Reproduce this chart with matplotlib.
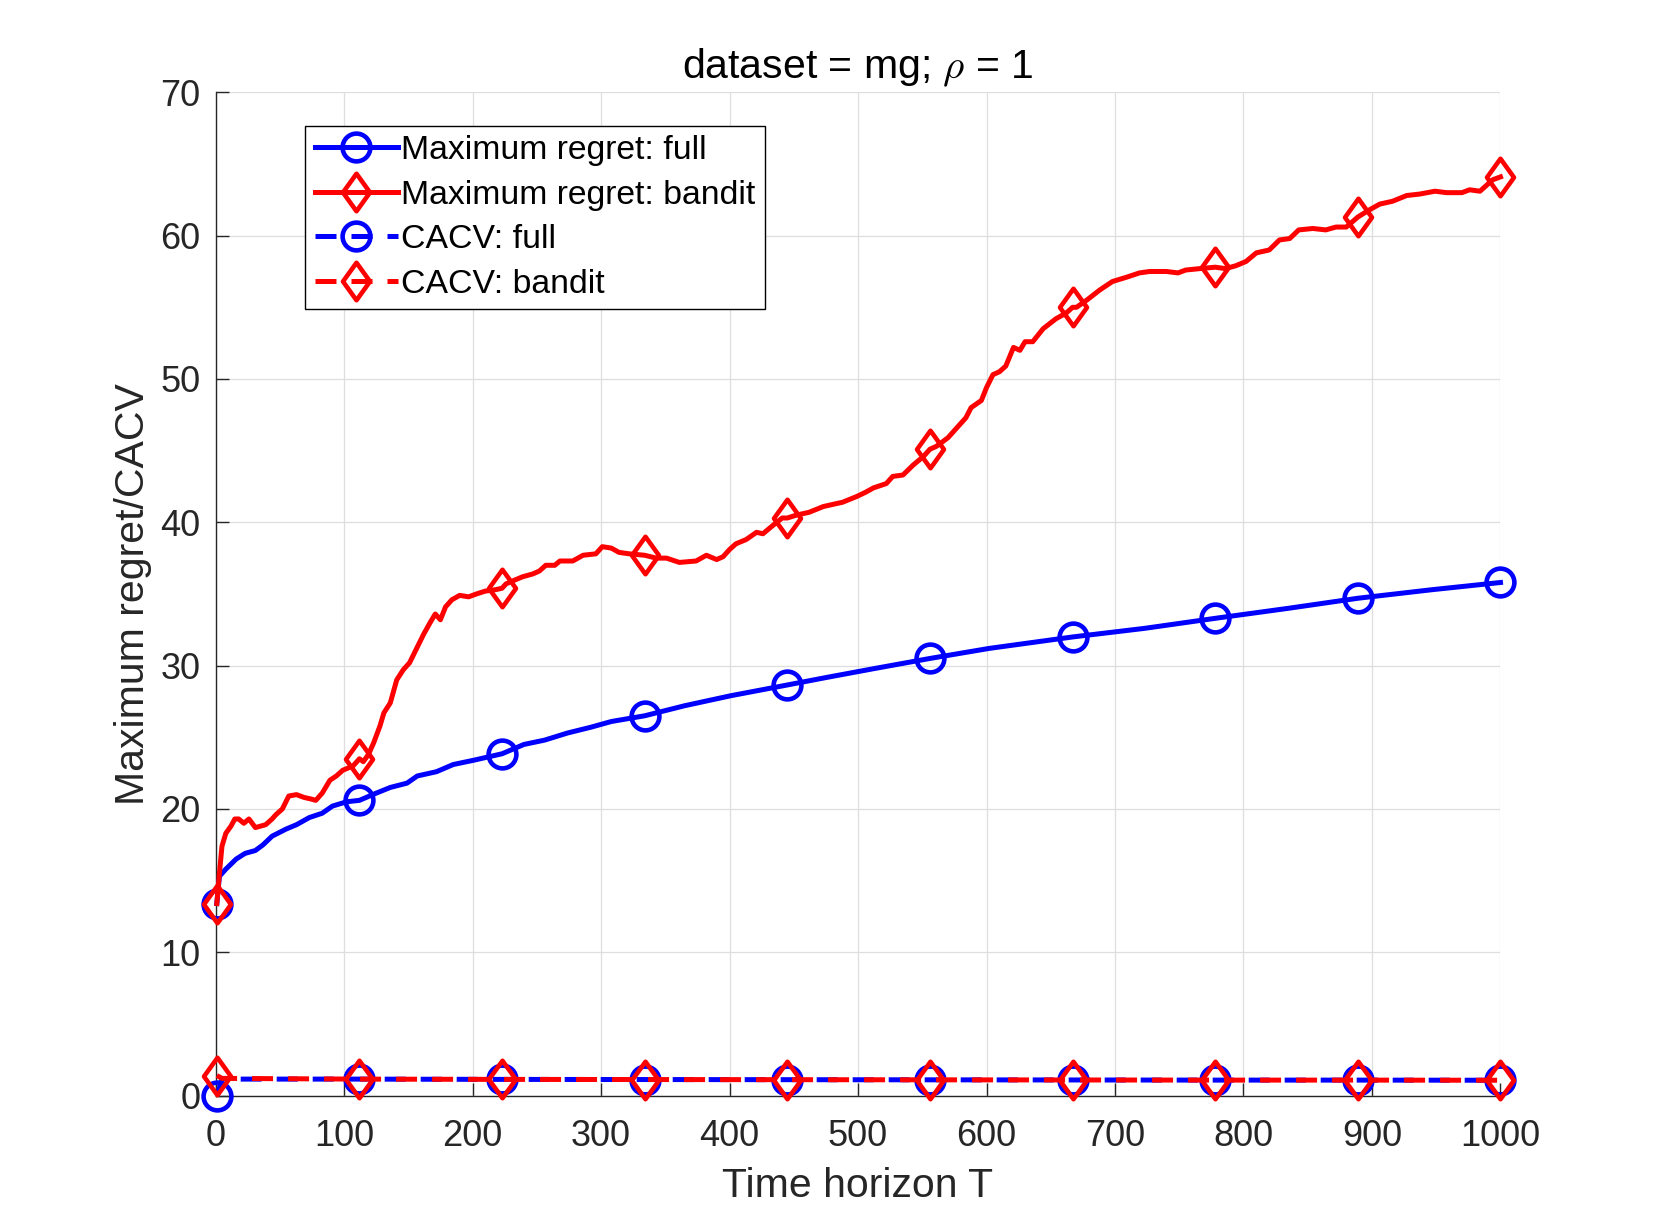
import numpy as np
import matplotlib
matplotlib.use("Agg")
import matplotlib.pyplot as plt
from matplotlib.path import Path

# ---------------- data ----------------
marker_t = [1, 112, 223, 334, 445, 556, 667, 778, 889, 1000]

bandit_t = [1, 3, 5, 8, 12, 15, 18, 22, 26, 31, 35, 39, 44, 47, 52, 57, 63, 69, 74, 78,
            83, 89, 94, 99, 107, 112, 115, 119, 123, 128, 131, 136, 141, 146, 151, 157,
            162, 167, 171, 175, 179, 184, 190, 197, 203, 210, 218, 223, 226, 231, 239,
            247, 252, 257, 264, 268, 278, 286, 296, 301, 308, 314, 322, 334, 343, 351,
            361, 374, 382, 390, 395, 400, 405, 413, 421, 426, 434, 441, 445, 452, 462,
            473, 488, 499, 506, 512, 522, 527, 535, 543, 551, 556, 561, 570, 577, 584,
            588, 596, 600, 605, 610, 615, 621, 626, 630, 636, 644, 654, 662, 667, 670,
            678, 688, 698, 709, 719, 727, 740, 749, 755, 766, 778, 786, 794, 802, 810,
            820, 828, 836, 843, 854, 864, 872, 880, 889, 898, 906, 916, 927, 937, 949,
            958, 970, 976, 984, 989, 994, 1000]
bandit_regret = [13.4, 15.5, 17.4, 18.3, 18.8, 19.3, 19.3, 19.0, 19.3, 18.7, 18.8, 18.9,
                 19.3, 19.6, 20.0, 20.9, 21.0, 20.8, 20.7, 20.6, 21.1, 22.0, 22.3, 22.7,
                 23.0, 23.5, 23.3, 23.8, 24.6, 25.8, 26.7, 27.4, 29.0, 29.7, 30.2, 31.3,
                 32.2, 33.0, 33.6, 33.2, 34.1, 34.6, 34.9, 34.8, 35.0, 35.2, 35.3, 35.4,
                 35.7, 35.9, 36.2, 36.4, 36.6, 37.0, 37.0, 37.3, 37.3, 37.7, 37.8, 38.3,
                 38.2, 37.9, 37.8, 37.7, 37.5, 37.5, 37.2, 37.3, 37.7, 37.4, 37.6, 38.1,
                 38.5, 38.8, 39.3, 39.2, 39.8, 40.3, 40.3, 40.5, 40.7, 41.1, 41.4, 41.8,
                 42.1, 42.4, 42.7, 43.2, 43.3, 44.0, 44.6, 45.1, 45.3, 45.9, 46.6, 47.3,
                 48.0, 48.5, 49.4, 50.3, 50.5, 50.9, 52.2, 52.0, 52.6, 52.6, 53.5, 54.2,
                 54.6, 55.0, 55.0, 55.5, 56.2, 56.8, 57.1, 57.4, 57.5, 57.5, 57.4, 57.6,
                 57.7, 57.8, 57.7, 57.9, 58.2, 58.8, 59.0, 59.7, 59.8, 60.4, 60.5, 60.4,
                 60.6, 60.6, 61.3, 61.8, 62.2, 62.4, 62.8, 62.9, 63.1, 63.0, 63.0, 63.2,
                 63.1, 63.5, 63.9, 64.1]

full_t = [1, 3, 8, 16, 23, 31, 37, 44, 55, 63, 73, 83, 91, 102, 112, 125, 136, 149, 157,
          172, 185, 201, 223, 240, 256, 274, 292, 308, 334, 365, 401, 445, 477, 513, 556,
          602, 667, 723, 778, 835, 889, 947, 1000]
full_regret = [13.4, 15.3, 15.8, 16.5, 16.9, 17.1, 17.5, 18.1, 18.6, 18.9, 19.4, 19.7,
               20.2, 20.5, 20.6, 21.1, 21.5, 21.8, 22.3, 22.6, 23.1, 23.4, 23.85, 24.5,
               24.8, 25.3, 25.7, 26.1, 26.5, 27.2, 27.9, 28.65, 29.2, 29.8, 30.5, 31.2,
               32.0, 32.6, 33.3, 34.0, 34.7, 35.3, 35.8]

cacv_t = [1, 5, 112, 223, 334, 445, 556, 667, 778, 889, 1000]
cacv_full = [0.0, 1.15, 1.15, 1.13, 1.12, 1.11, 1.10, 1.09, 1.08, 1.08, 1.07]
cacv_bandit = [1.4, 1.2, 1.15, 1.13, 1.12, 1.11, 1.10, 1.09, 1.08, 1.08, 1.07]

labels = ["Maximum regret: full", "Maximum regret: bandit", "CACV: full", "CACV: bandit"]
xticks = list(range(0, 1001, 100))
yticks = list(range(0, 71, 10))

# ---------------- styling ----------------
plt.rcParams['font.family'] = ['Liberation Sans', 'DejaVu Sans']
plt.rcParams['mathtext.fontset'] = 'cm'
axcol = '#262626'

diamond = Path([(0, 1), (0.72, 0), (0, -1), (-0.72, 0), (0, 1)],
               [Path.MOVETO, Path.LINETO, Path.LINETO, Path.LINETO, Path.CLOSEPOLY])

def midx(t):
    return [i for i, v in enumerate(t) if v in marker_t]

fig = plt.figure(figsize=(16.58, 12.31), dpi=100)
ax = fig.add_axes([0.13, 0.11, 0.775, 0.815])

lw = 3.6
common = dict(linewidth=lw, markeredgewidth=3.3, markerfacecolor='none', clip_on=False)
dash = (4.2, 3.0)

ax.plot(full_t, full_regret, color='#0000ff', marker='o', markersize=20,
        markevery=midx(full_t), label=labels[0], **common)
ax.plot(bandit_t, bandit_regret, color='#ff0000', marker=diamond, markersize=27,
        markevery=midx(bandit_t), label=labels[1], **common)
ax.plot(cacv_t, cacv_full, color='#0000ff', marker='o', markersize=20, dashes=dash,
        markevery=midx(cacv_t), label=labels[2], **common)
ax.plot(cacv_t, cacv_bandit, color='#ff0000', marker=diamond, markersize=27, dashes=dash,
        markevery=midx(cacv_t), label=labels[3], **common)

ax.set_xlim(0, 1000)
ax.set_ylim(0, 70)
ax.set_xticks(xticks)
ax.set_yticks(yticks)
ax.grid(True, color='#dedede', linewidth=0.9)
ax.set_axisbelow(True)
for s in ['top', 'right']:
    ax.spines[s].set_visible(False)
for s in ['left', 'bottom']:
    ax.spines[s].set_color(axcol)
    ax.spines[s].set_linewidth(1.0)
    ax.spines[s].set_zorder(1.5)
ax.tick_params(direction='in', length=9.2, width=1.0, color=axcol, labelcolor=axcol,
               labelsize=26)
ax.tick_params(axis='y', pad=11)
ax.tick_params(axis='x', pad=17)

ax.set_xlabel('Time horizon T', fontsize=29.5, color=axcol, labelpad=9)
ax.set_ylabel('Maximum regret/CACV', fontsize=29.5, color=axcol, labelpad=6)
ax.set_title(r'dataset = mg; $\rho$ = 1', fontsize=29.5, color='black', pad=10)

leg = ax.legend(loc='upper left', bbox_to_anchor=(0.070, 0.9666), borderaxespad=0,
                fontsize=24.3, fancybox=False, edgecolor='black', framealpha=1,
                handlelength=2.45, handletextpad=0.1, borderpad=0.28,
                labelspacing=0.4)
leg.get_frame().set_linewidth(1.0)
leg.set_zorder(5)

fig.savefig('out.png', dpi=100)
